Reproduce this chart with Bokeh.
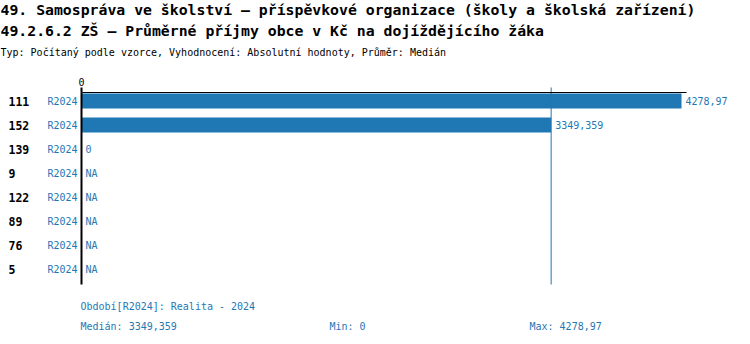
from bokeh.plotting import figure
from bokeh.models import Range1d, ColumnDataSource
from bokeh.core.properties import value
from bokeh.embed import file_html
from bokeh.resources import INLINE

# ---- data ----
title1 = "49. Samospráva ve školství – příspěvkové organizace (školy a školská zařízení)"
title2 = "49.2.6.2 ZŠ – Průměrné příjmy obce v Kč na dojíždějícího žáka"
subtitle = "Typ: Počítaný podle vzorce, Vyhodnocení: Absolutní hodnoty, Průměr: Medián"
categories = ["111", "152", "139", "9", "122", "89", "76", "5"]
periods = ["R2024"] * 8
values = [4278.97, 3349.359, 0, None, None, None, None, None]
period_note = "Období[R2024]: Realita - 2024"
median = 3349.359
vmin = 0
vmax = 4278.97
axis_ticks = [0]


def fmt(v):
    if v is None:
        return "NA"
    if float(v).is_integer():
        return str(int(v))
    return str(v).replace(".", ",")


# ---- layout / style ----
W, H = 750, 344
FONT = value("DejaVu Sans Mono")
BLUE = "#1f77b4"
ZERO_PX = 81          # pixel column of value 0
SCALE_PX = 600        # pixels spanned by vmax
ROW0_PX = 100.5       # pixel row of the first category centre
ROW_PX = 24           # pixels per category row
dpp = vmax / SCALE_PX


def xd(px):
    return (px - ZERO_PX) * dpp


def yd(py):
    return (py - ROW0_PX) / ROW_PX


rows = list(range(len(categories)))
source = ColumnDataSource(dict(
    row=rows,
    category=categories,
    period=periods,
    right=[float("nan") if v is None else v for v in values],
    label_x=[0 if v is None else v for v in values],
    label=[fmt(v) for v in values],
))

p = figure(width=W, height=H, output_backend="svg", toolbar_location=None,
           x_range=Range1d(xd(0), xd(W)), y_range=Range1d(yd(H), yd(0)),
           x_axis_type=None, y_axis_type=None, min_border=0)
p.outline_line_color = None
p.grid.visible = False
p.background_fill_color = "white"
p.border_fill_color = "white"

frame_top = yd(92)
frame_bottom = yd(284)
frame_right = xd(686)

# bars
p.hbar(y="row", left=0, right="right", height=15 / ROW_PX, source=source,
       fill_color=BLUE, line_color=None)

# median line
p.segment(x0=[median], x1=[median], y0=[yd(87)], y1=[frame_bottom],
          line_color=BLUE, line_width=1)

# value axis (top) with tick at 0
p.segment(x0=[0], x1=[frame_right], y0=[frame_top], y1=[frame_top],
          line_color="black", line_width=1)
p.segment(x0=axis_ticks, x1=axis_ticks, y0=[yd(87)] * len(axis_ticks),
          y1=[frame_top] * len(axis_ticks), line_color="black", line_width=2)
p.text(x=axis_ticks, y=[yd(81.5)] * len(axis_ticks), text=[fmt(t) for t in axis_ticks],
       text_font=FONT, text_font_size="10px", text_color="black",
       text_align="center", text_baseline="middle")

# category axis line
p.segment(x0=[0], x1=[0], y0=[frame_top], y1=[frame_bottom],
          line_color="black", line_width=2)

# value labels
p.text(x="label_x", y="row", text="label", source=source, x_offset=4,
       text_font=FONT, text_font_size="10px", text_color=BLUE,
       text_align="left", text_baseline="middle")

# period labels
p.text(x=0, y="row", text="period", source=source, x_offset=-4,
       text_font=FONT, text_font_size="10px", text_color=BLUE,
       text_align="right", text_baseline="middle")

# category labels
p.text(x=xd(8), y="row", text="category", source=source,
       text_font=FONT, text_font_size="11.5px", text_font_style="bold",
       text_color="black", text_align="left", text_baseline="middle")


def put(px, py, text, size, color, bold=False):
    p.text(x=[xd(px)], y=[yd(py)], text=[text], text_font=FONT,
           text_font_size=size, text_font_style="bold" if bold else "normal",
           text_color=color, text_align="left", text_baseline="middle")


put(0, 9, title1, "14.8px", "black", bold=True)
put(0, 30.3, title2, "14.8px", "black", bold=True)
put(0, 51.7, subtitle, "10px", "black")
put(80, 305.8, period_note, "10px", BLUE)
put(80, 325.8, "Medián: " + fmt(median), "10px", BLUE)
put(329, 325.8, "Min: " + fmt(vmin), "10px", BLUE)
put(529, 325.8, "Max: " + fmt(vmax), "10px", BLUE)

open("out.html", "w").write(file_html(p, INLINE))
